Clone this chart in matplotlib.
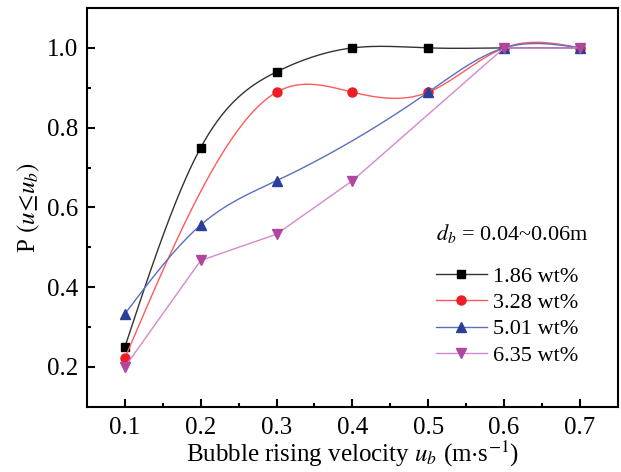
import numpy as np
import matplotlib
matplotlib.use('Agg')
import matplotlib.pyplot as plt

plt.rcParams['font.family'] = ['Liberation Serif', 'DejaVu Serif']
plt.rcParams['mathtext.fontset'] = 'stix'

# data
x_186 = [0.1, 0.2, 0.3, 0.4, 0.5, 0.6, 0.7]
p_186 = [0.25, 0.75, 0.94, 1.0, 1.0, 1.0, 1.0]
x_328 = [0.1, 0.3, 0.4, 0.5, 0.6, 0.7]
p_328 = [0.222, 0.889, 0.889, 0.889, 1.0, 1.0]
x_501 = [0.1, 0.2, 0.3, 0.5, 0.6, 0.7]
p_501 = [0.333, 0.556, 0.667, 0.889, 1.0, 1.0]
x_635 = [0.1, 0.2, 0.3, 0.4, 0.6, 0.7]
p_635 = [0.2, 0.467, 0.533, 0.667, 1.0, 1.0]
labels = ['1.86 wt%', '3.28 wt%', '5.01 wt%', '6.35 wt%']


def natural_spline(x, y, n=300):
    # natural cubic spline through the points, for the smoothed lines
    x = np.asarray(x, float)
    y = np.asarray(y, float)
    k = len(x)
    h = np.diff(x)
    A = np.zeros((k, k))
    b = np.zeros(k)
    A[0, 0] = A[-1, -1] = 1
    for i in range(1, k - 1):
        A[i, i - 1] = h[i - 1]
        A[i, i] = 2 * (h[i - 1] + h[i])
        A[i, i + 1] = h[i]
        b[i] = 3 * ((y[i + 1] - y[i]) / h[i] - (y[i] - y[i - 1]) / h[i - 1])
    c = np.linalg.solve(A, b)
    xs = np.linspace(x[0], x[-1], n)
    idx = np.clip(np.searchsorted(x, xs) - 1, 0, k - 2)
    dx = xs - x[idx]
    bb = (y[1:] - y[:-1]) / h - h * (2 * c[:-1] + c[1:]) / 3
    dd = (c[1:] - c[:-1]) / (3 * h)
    ys = y[idx] + bb[idx] * dx + c[idx] * dx ** 2 + dd[idx] * dx ** 3
    return xs, ys


fig = plt.figure(figsize=(6.21, 4.72), dpi=100)
ax = fig.add_axes([0.140, 0.138, 0.855, 0.845])

series = [
    (x_186, p_186, 's', 6.0, 'black', '#333333', True),
    (x_328, p_328, 'o', 6.5, '#ee1c25', '#ff5a5a', True),
    (x_501, p_501, '^', 7.0, '#2b3f99', '#5b6fc0', True),
    (x_635, p_635, 'v', 7.0, '#b0479e', '#d488cf', False),
]

handles = []
for (xv, yv, mk, ms, mc, lc, smooth), lab in zip(series, labels):
    if smooth:
        xs, ys = natural_spline(xv, yv)
    else:
        xs, ys = xv, yv
    ax.plot(xs, ys, color=lc, lw=1.0)
    ax.plot(xv, yv, ls='none', marker=mk, ms=ms, color=mc, mec=mc)
    h, = ax.plot([], [], color=lc, lw=1.0, marker=mk, ms=ms, mfc=mc, mec=mc)
    handles.append(h)

ax.set_xlim(0.05, 0.75)
ax.set_ylim(0.1, 1.1)
ax.set_xticks([0.1, 0.2, 0.3, 0.4, 0.5, 0.6, 0.7])
ax.set_xticks(np.arange(0.15, 0.75, 0.1), minor=True)
ax.set_yticks([0.2, 0.4, 0.6, 0.8, 1.0])
ax.set_yticks([0.3, 0.5, 0.7, 0.9], minor=True)
ax.tick_params(which='both', direction='in', top=False, right=False, labelsize=18, width=1.5)
ax.tick_params(which='major', length=6)
ax.tick_params(which='minor', length=3)
ax.tick_params(axis='x', pad=7)
ax.tick_params(axis='y', pad=6)
for s in ax.spines.values():
    s.set_linewidth(1.5)

ax.set_xlabel(r'Bubble rising velocity $u_b$ (m$\cdot$s$^{-1}$)', fontsize=18, labelpad=0)
ax.set_ylabel(r'P $(u\!\leq\! u_b)$', fontsize=18, labelpad=4)

leg = ax.legend(handles, labels, title=r'$d_b$ = 0.04~0.06m', frameon=False,
                loc='upper left', bbox_to_anchor=(0.64, 0.485), fontsize=16,
                title_fontsize=16, handlelength=2.3, handletextpad=0.3,
                labelspacing=0.26, borderaxespad=0)
leg._legend_box.align = 'left'
leg._legend_box.sep = 15

fig.savefig('out.png', dpi=100)
